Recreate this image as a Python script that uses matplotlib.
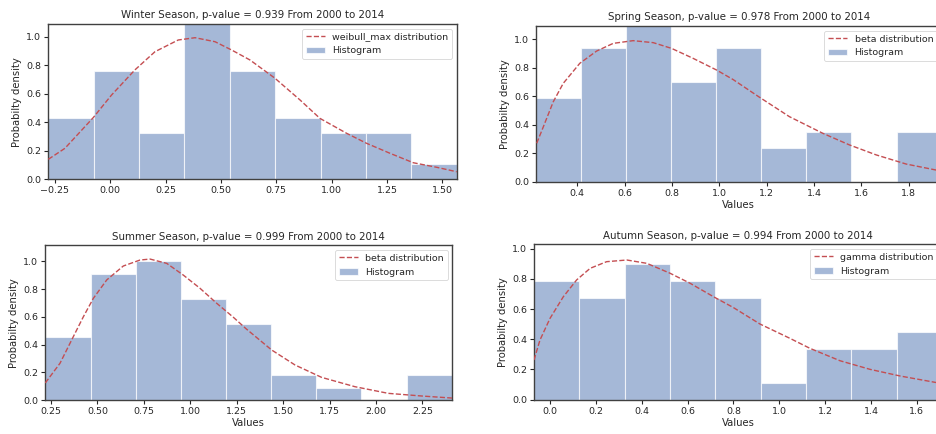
import numpy as np
import matplotlib
matplotlib.use("Agg")
import matplotlib.pyplot as plt
import seaborn as sns

sns.set_theme(style="ticks")
plt.rcParams['font.family'] = ['DejaVu Sans']

# ---------------- data ----------------
titles = ["Winter Season, p-value = 0.939 From 2000 to 2014",
          "Spring Season, p-value = 0.978 From 2000 to 2014",
          "Summer Season, p-value = 0.999 From 2000 to 2014",
          "Autumn Season, p-value = 0.994 From 2000 to 2014"]
dist_names = ["weibull_max", "beta", "beta", "gamma"]

winter_edges = [-0.28, -0.075, 0.13, 0.335, 0.54, 0.745, 0.95, 1.155, 1.36, 1.565]
winter_density = [0.432, 0.759, 0.322, 1.41, 0.759, 0.432, 0.322, 0.322, 0.108]
winter_curve_x = [-0.280, -0.205, -0.077, 0.006, 0.111, 0.202, 0.307, 0.383, 0.473,
                  0.548, 0.631, 0.744, 0.857, 0.947, 1.068, 1.158, 1.264, 1.369, 1.475, 1.565]
winter_curve_y = [0.140, 0.217, 0.432, 0.591, 0.766, 0.894, 0.976, 0.992, 0.964,
                  0.906, 0.836, 0.708, 0.556, 0.427, 0.322, 0.252, 0.182, 0.116, 0.084, 0.053]

spring_edges = [0.226, 0.416, 0.606, 0.796, 0.986, 1.176, 1.366, 1.557, 1.749, 1.939]
spring_density = [0.585, 0.936, 1.17, 0.702, 0.936, 0.234, 0.351, 0.0, 0.351]
spring_curve_x = [0.229, 0.257, 0.299, 0.341, 0.411, 0.482, 0.552, 0.636, 0.721, 0.798,
                  0.889, 0.988, 1.058, 1.170, 1.296, 1.437, 1.550, 1.663, 1.789, 1.915, 1.939]
spring_curve_y = [0.270, 0.386, 0.562, 0.691, 0.832, 0.918, 0.972, 0.991, 0.977, 0.937,
                  0.867, 0.785, 0.718, 0.593, 0.457, 0.340, 0.258, 0.188, 0.124, 0.082, 0.075]

summer_edges = [0.219, 0.463, 0.708, 0.950, 1.194, 1.436, 1.679, 1.921, 2.165, 2.411]
summer_density = [0.455, 0.911, 1.002, 0.729, 0.547, 0.182, 0.091, 0.0, 0.182]
summer_curve_x = [0.219, 0.298, 0.370, 0.424, 0.478, 0.550, 0.639, 0.729, 0.783, 0.873,
                  0.962, 1.052, 1.142, 1.232, 1.300, 1.438, 1.564, 1.707, 1.886, 2.066, 2.245, 2.411]
summer_curve_y = [0.125, 0.266, 0.458, 0.601, 0.734, 0.866, 0.966, 1.009, 1.016, 0.985,
                  0.901, 0.806, 0.698, 0.597, 0.515, 0.362, 0.254, 0.165, 0.098, 0.050, 0.031, 0.016]

autumn_edges = [-0.070, 0.128, 0.326, 0.524, 0.721, 0.919, 1.117, 1.315, 1.513, 1.710]
autumn_density = [0.786, 0.673, 0.898, 0.786, 0.673, 0.112, 0.337, 0.337, 0.449]
autumn_curve_x = [-0.070, -0.044, 0.000, 0.058, 0.116, 0.175, 0.247, 0.335, 0.422, 0.524,
                  0.611, 0.713, 0.800, 0.916, 1.047, 1.134, 1.265, 1.396, 1.527, 1.687, 1.710]
autumn_curve_y = [0.263, 0.395, 0.539, 0.682, 0.793, 0.870, 0.914, 0.925, 0.903, 0.837,
                  0.771, 0.682, 0.610, 0.501, 0.406, 0.340, 0.258, 0.201, 0.157, 0.113, 0.108]

y_tops = [1.088, 1.094, 1.115, 1.029]
show_xlabel = [False, True, True, True]
# ---------------------------------------------------------------

edges_all = [winter_edges, spring_edges, summer_edges, autumn_edges]
dens_all = [winter_density, spring_density, summer_density, autumn_density]
cx_all = [winter_curve_x, spring_curve_x, summer_curve_x, autumn_curve_x]
cy_all = [winter_curve_y, spring_curve_y, summer_curve_y, autumn_curve_y]

W, H = 937, 434
fig = plt.figure(figsize=(W / 100, H / 100), dpi=100)

# axes boxes in pixels: left, top, right, bottom
boxes = [(48.3, 24.0, 456.7, 179.3),
         (536.0, 26.0, 941.7, 181.7),
         (45.3, 245.3, 452.3, 400.3),
         (534.0, 244.3, 942.0, 399.7)]

hist_color = (0.298, 0.447, 0.690, 0.5)
line_color = (0.769, 0.306, 0.322)
fs = 6.8

for i in range(4):
    l, t, r, b = boxes[i]
    ax = fig.add_axes([l / W, 1 - b / H, (r - l) / W, (b - t) / H])
    edges = edges_all[i]
    ax.plot(cx_all[i], cy_all[i], linestyle='--', color=line_color, lw=1.0,
            label=f"{dist_names[i]} distribution", zorder=3)
    ax.hist(edges[:-1], bins=edges, weights=dens_all[i], color=hist_color,
            edgecolor=(1, 1, 1, 0.7), linewidth=0.8, label="Histogram", zorder=2)
    ax.set_xlim(edges[0], edges[-1])
    ax.set_ylim(0, y_tops[i])
    ax.set_title(titles[i], fontsize=fs + 0.6, pad=4, color='0.15')
    ax.set_ylabel("Probabilty density", fontsize=fs + 0.4, labelpad=3)
    if show_xlabel[i]:
        ax.set_xlabel("Values", fontsize=fs + 0.4, labelpad=1.5)
    ax.tick_params(labelsize=fs, length=3, width=0.8, pad=2, color='0.15')
    for s in ax.spines.values():
        s.set_linewidth(1.0)
        s.set_color('0.25')
    leg = ax.legend(loc='upper right', fontsize=fs, frameon=True)
    leg.get_frame().set_linewidth(0.6)
    leg.set_zorder(5)

fig.savefig("out.png", dpi=100)
